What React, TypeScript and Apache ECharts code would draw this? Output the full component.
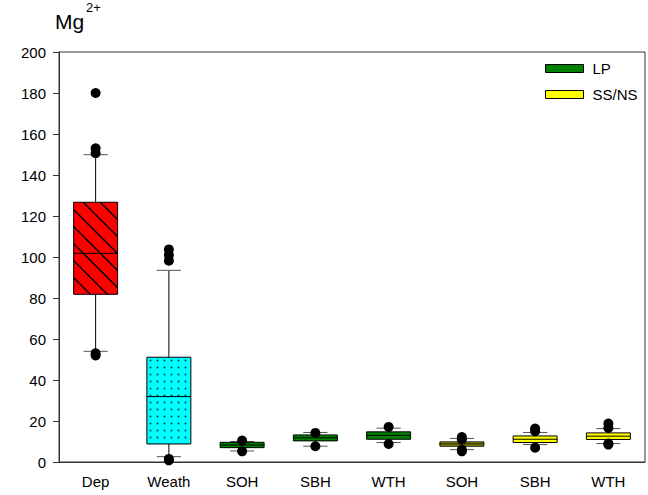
import React, { useEffect, useRef } from "react";
import * as echarts from "echarts";

const categories = ["Dep", "Weath", "SOH", "SBH", "WTH", "SOH", "SBH", "WTH"];
const yTicks = [0, 20, 40, 60, 80, 100, 120, 140, 160, 180, 200];

// [category index, min, Q1, median, Q3, max]
const depBox = [[0, 54.0, 81.8, 101.8, 126.7, 149.9]];
const weathBox = [[1, 2.6, 8.8, 31.9, 51.1, 93.5]];
const lpBoxes = [
  [2, 5.4, 7.0, 8.3, 9.6, 10.0],
  [3, 7.7, 10.3, 11.8, 13.2, 14.4],
  [4, 9.5, 11.1, 13.0, 14.7, 16.5],
];
const ssBoxes = [
  [5, 6.0, 7.7, 8.8, 9.8, 11.5],
  [6, 8.5, 9.5, 11.1, 12.7, 14.4],
  [7, 9.0, 11.0, 12.6, 14.2, 16.3],
];
// [category index, value]
const outliers = [
  [0, 180.0], [0, 153.0], [0, 150.6], [0, 53.0], [0, 52.0],
  [1, 103.7], [1, 101.0], [1, 98.2], [1, 1.5], [1, 0.8],
  [2, 10.5], [2, 5.2],
  [3, 14.2], [3, 7.7],
  [4, 17.1], [4, 8.8],
  [5, 12.2], [5, 11.0], [5, 6.0], [5, 5.2],
  [6, 16.3], [6, 15.0], [6, 7.0],
  [7, 18.8], [7, 16.6], [7, 9.0], [7, 8.5],
];
const legendNames = ["LP", "SS/NS"];

const FONT = "'Liberation Sans', Arial, sans-serif";

function hatchPattern(): any {
  const s = 17;
  const c = document.createElement("canvas");
  c.width = s;
  c.height = s;
  const g = c.getContext("2d")!;
  g.fillStyle = "#ff0000";
  g.fillRect(0, 0, s, s);
  g.strokeStyle = "#000";
  g.lineWidth = 1.4;
  const seg = (a: number, b: number, cc: number, d: number) => {
    g.beginPath();
    g.moveTo(a, b);
    g.lineTo(cc, d);
    g.stroke();
  };
  seg(-2, -2, s + 2, s + 2);
  seg(-2, s - 2, 2, s + 2);
  seg(s - 2, -2, s + 2, 2);
  return { image: c.toDataURL(), repeat: "repeat", imageWidth: s, imageHeight: s };
}

function dotPattern(): any {
  const s = 7;
  const c = document.createElement("canvas");
  c.width = s;
  c.height = s;
  const g = c.getContext("2d")!;
  g.fillStyle = "#00ffff";
  g.fillRect(0, 0, s, s);
  g.fillStyle = "#064040";
  g.beginPath();
  g.arc(3.5, 3.5, 1.0, 0, Math.PI * 2);
  g.fill();
  return { image: c.toDataURL(), repeat: "repeat", imageWidth: s, imageHeight: s };
}

function makeRender(fillFor: (idx: number) => any) {
  return (params: any, api: any) => {
    const xi = api.value(0);
    const band = api.size([1, 0])[0];
    const bw = band * 0.6;
    const cw = band * 0.33;
    const pMin = api.coord([xi, api.value(1)]);
    const pQ1 = api.coord([xi, api.value(2)]);
    const pMed = api.coord([xi, api.value(3)]);
    const pQ3 = api.coord([xi, api.value(4)]);
    const pMax = api.coord([xi, api.value(5)]);
    const cx = pMed[0];
    const line = (x1: number, y1: number, x2: number, y2: number, color = "#000") => ({
      type: "line",
      shape: { x1, y1, x2, y2 },
      style: { stroke: color, lineWidth: 1 },
    });
    return {
      type: "group",
      children: [
        line(cx, pQ3[1], cx, pMax[1]),
        line(cx, pQ1[1], cx, pMin[1]),
        line(cx - cw / 2, pMax[1], cx + cw / 2, pMax[1], "#555"),
        line(cx - cw / 2, pMin[1], cx + cw / 2, pMin[1], "#555"),
        {
          type: "rect",
          shape: { x: cx - bw / 2, y: pQ3[1], width: bw, height: pQ1[1] - pQ3[1] },
          style: { fill: fillFor(xi), stroke: "#000", lineWidth: 1 },
        },
        line(cx - bw / 2, pMed[1], cx + bw / 2, pMed[1]),
      ],
    };
  };
}

export default function App() {
  const ref = useRef<HTMLDivElement>(null);
  useEffect(() => {
    if (!ref.current) return;
    const chart = echarts.init(ref.current, null, { renderer: "svg" });
    const hatch = hatchPattern();
    const dots = dotPattern();
    const enc = { x: 0, y: [1, 2, 3, 4, 5] };
    chart.setOption({
      animation: false,
      backgroundColor: "#fff",
      grid: {
        left: 59,
        right: 3,
        top: 52,
        bottom: 33,
        containLabel: false,
        outerBoundsMode: "none",
        show: true,
        borderColor: "#333",
        borderWidth: 1,
      },
      graphic: [
        {
          type: "text",
          left: 55,
          top: 11,
          style: { text: "Mg", font: `21px ${FONT}`, fill: "#000" },
        },
        {
          type: "text",
          left: 86,
          top: 1,
          style: { text: "2+", font: `13px ${FONT}`, fill: "#000" },
        },
      ],
      legend: {
        data: [
          { name: legendNames[0], icon: "rect", itemStyle: { color: "#008000", borderColor: "#000", borderWidth: 1 } },
          { name: legendNames[1], icon: "rect", itemStyle: { color: "#ffff00", borderColor: "#000", borderWidth: 1 } },
        ],
        orient: "vertical",
        left: 545,
        top: 61,
        padding: 0,
        itemWidth: 38,
        itemHeight: 8,
        itemGap: 11,
        textStyle: { fontFamily: FONT, fontSize: 15, color: "#000", padding: [0, 0, 0, 4] },
      },
      xAxis: {
        type: "category",
        data: categories,
        boundaryGap: true,
        axisLine: { lineStyle: { color: "#333", width: 1 } },
        axisTick: { alignWithLabel: true, length: 6, lineStyle: { color: "#333" } },
        axisLabel: { fontFamily: FONT, fontSize: 15, color: "#000", margin: 12, interval: 0 },
        splitLine: { show: false },
      },
      yAxis: {
        type: "value",
        min: yTicks[0],
        max: yTicks[yTicks.length - 1],
        interval: yTicks[1] - yTicks[0],
        axisLine: { show: true, lineStyle: { color: "#333", width: 1 } },
        axisTick: { show: true, length: 6, lineStyle: { color: "#333" } },
        axisLabel: { fontFamily: FONT, fontSize: 15, color: "#000", margin: 13 },
        splitLine: { show: false },
      },
      series: [
        {
          name: "Dep",
          type: "custom",
          renderItem: makeRender(() => hatch),
          encode: enc,
          data: depBox,
          z: 2,
        },
        {
          name: "Weath",
          type: "custom",
          renderItem: makeRender(() => dots),
          encode: enc,
          data: weathBox,
          z: 2,
        },
        {
          name: legendNames[0],
          type: "custom",
          itemStyle: { color: "#008000" },
          renderItem: makeRender(() => "#008000"),
          encode: enc,
          data: lpBoxes,
          z: 2,
        },
        {
          name: legendNames[1],
          type: "custom",
          itemStyle: { color: "#ffff00" },
          renderItem: makeRender((i) => (i === 5 ? "#a8a800" : "#ffff00")),
          encode: enc,
          data: ssBoxes,
          z: 2,
        },
        {
          name: "outliers",
          type: "scatter",
          data: outliers,
          symbol: "circle",
          symbolSize: 10,
          itemStyle: { color: "#000", opacity: 1 },
          z: 5,
        },
      ],
    });
    return () => chart.dispose();
  }, []);
  return <div ref={ref} style={{ width: 648, height: 495, position: "absolute", left: 0, top: 0 }} />;
}
